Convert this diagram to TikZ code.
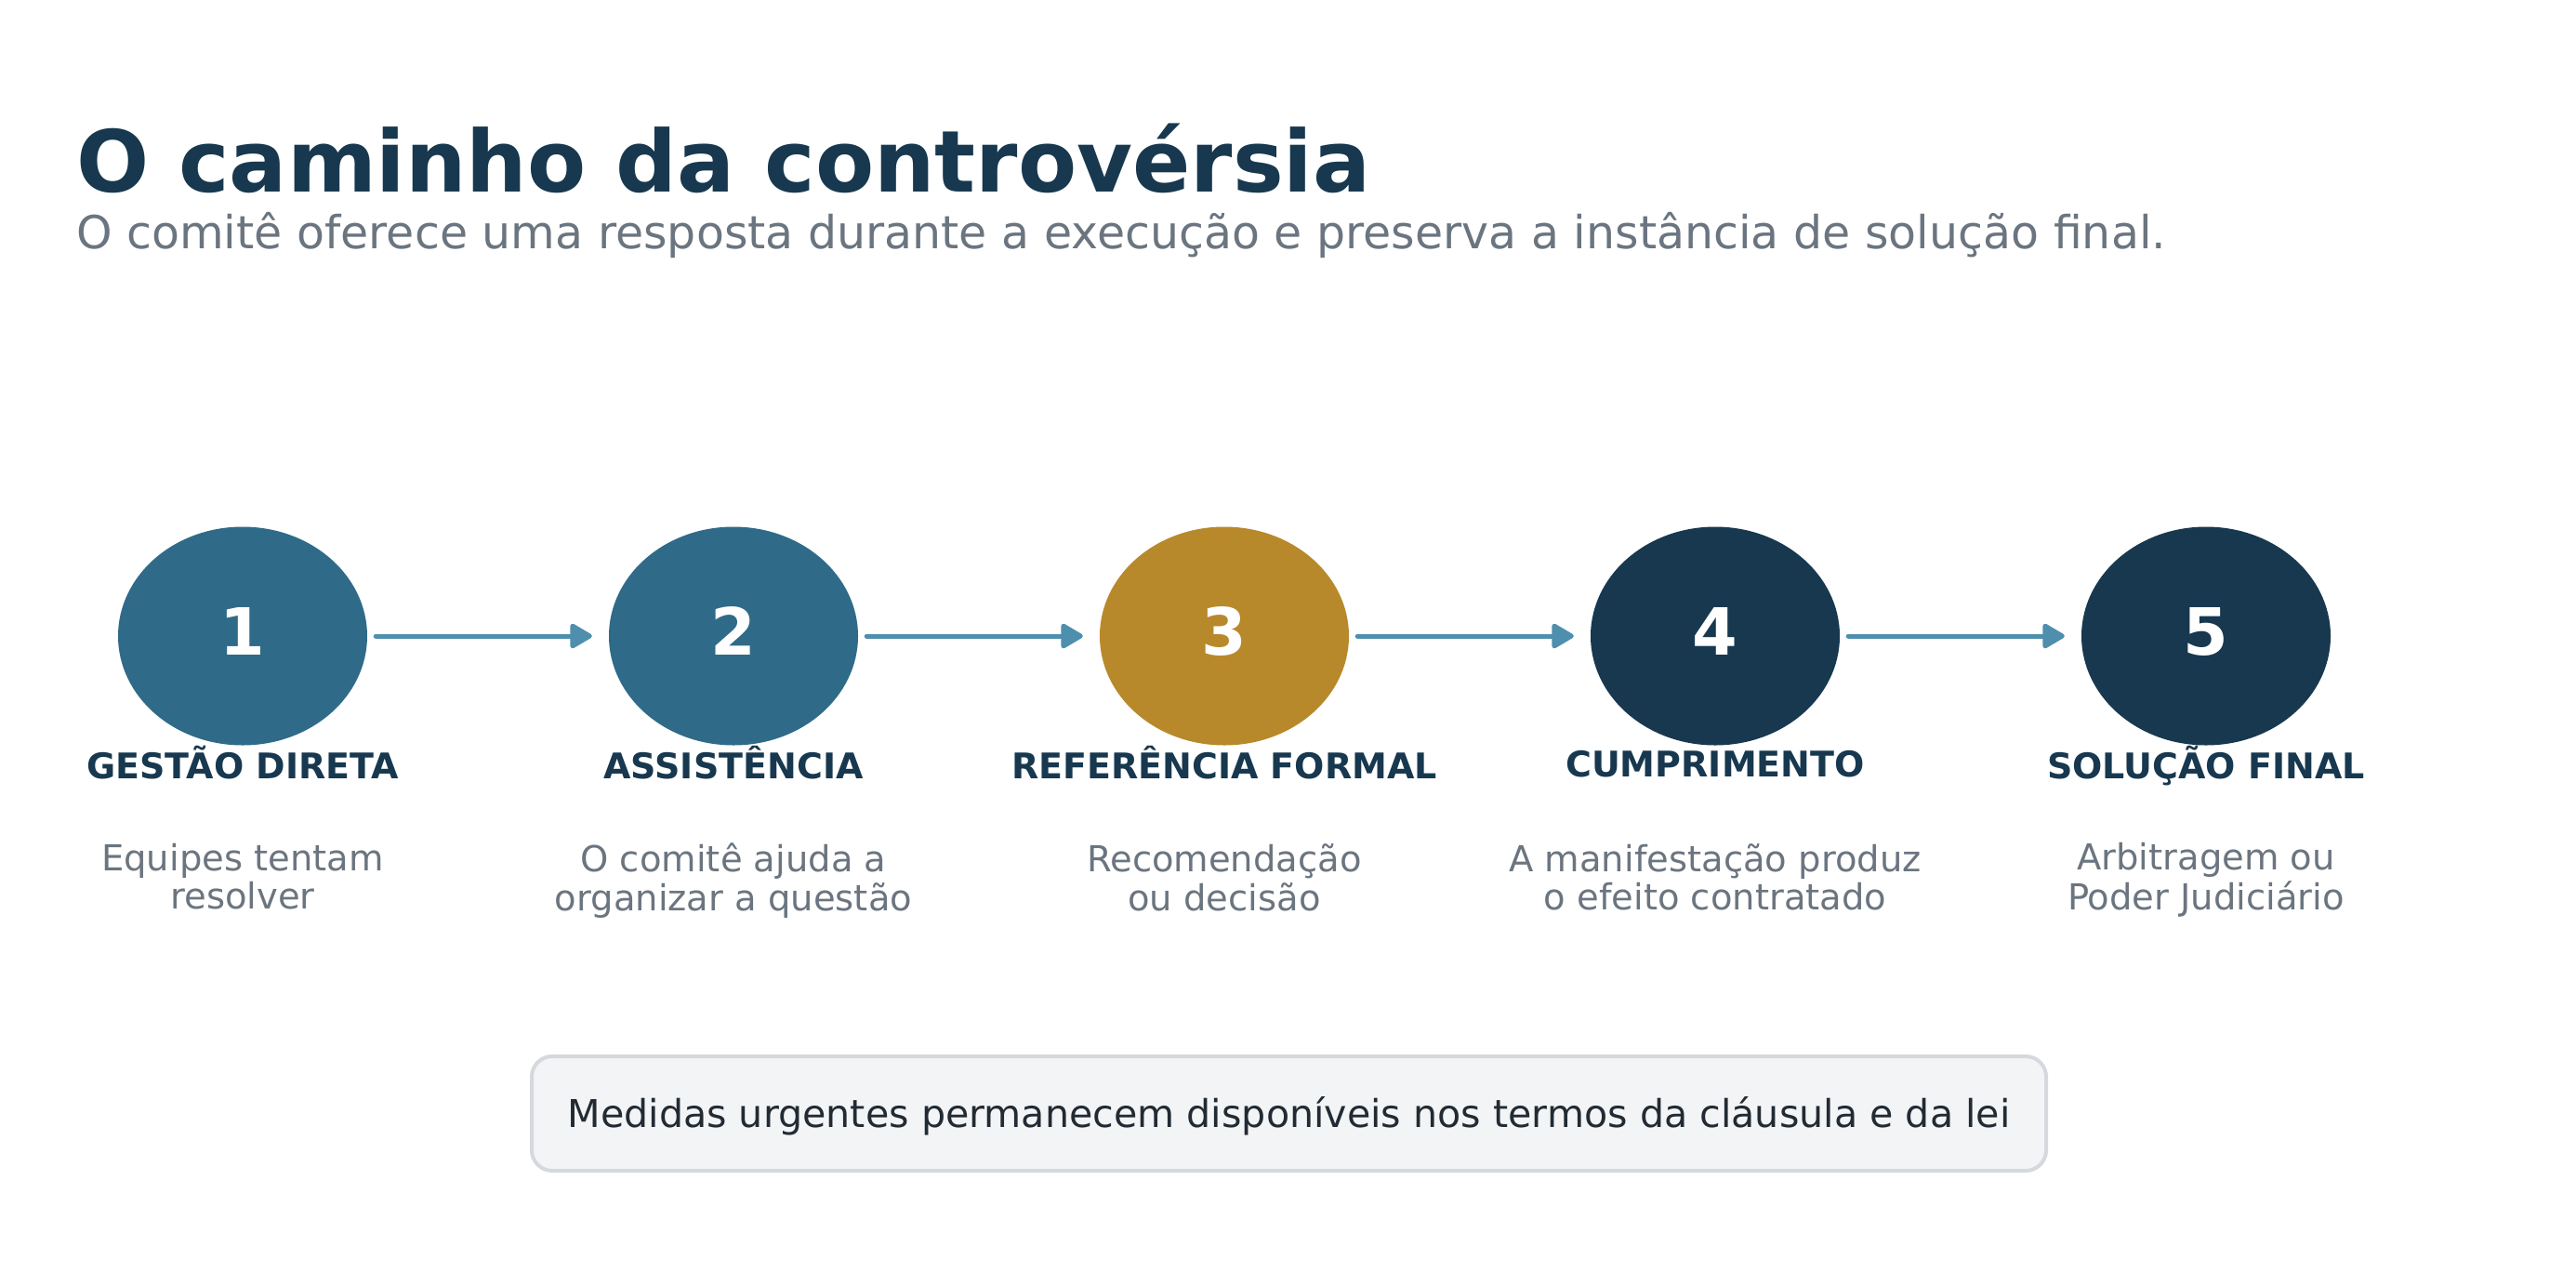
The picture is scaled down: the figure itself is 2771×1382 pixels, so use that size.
\documentclass[tikz,border=0pt]{standalone}
\usepackage{fontspec}
\setmainfont{DejaVu Sans}
\usetikzlibrary{shapes.geometric,arrows.meta}
\definecolor{navy}{HTML}{17384F}
\definecolor{teal}{HTML}{2F6B88}
\definecolor{gold}{HTML}{B8892B}
\definecolor{greytxt}{HTML}{6B7580}
\definecolor{arrowc}{HTML}{4F8FAE}
\definecolor{boxfill}{HTML}{F3F4F6}
\definecolor{boxline}{HTML}{D5D9DE}
\definecolor{boxtxt}{HTML}{222B33}
\tikzset{
  stepnode/.style={ellipse, draw=none, fill=#1, minimum width=268pt, minimum height=235pt, inner sep=0pt,
    text=white, font=\fontsize{70}{80}\selectfont\bfseries, text height=51pt, text depth=10pt},
  steplabel/.style={anchor=base, inner sep=0pt, text=navy, font=\fontsize{38}{44}\selectfont\bfseries},
  stepdesc/.style={anchor=base, inner sep=0pt, text=greytxt, font=\fontsize{38.5}{41}\selectfont},
  flow/.style={draw=arrowc, line width=5pt, line cap=round, -{Triangle[length=26pt,width=29pt,round]},
    shorten <=9pt, shorten >=18pt},
}
\newcommand{\twolines}[2]{\begin{tabular}[t]{@{}c@{}}#1\\#2\end{tabular}}
\begin{document}
\begin{tikzpicture}[x=1pt,y=-1pt]
\useasboundingbox[fill=white] (0,0) rectangle (2771,1382);
\node[anchor=base west, inner sep=0pt, text=navy, font=\fontsize{92}{106}\selectfont\bfseries] (title) at (82,206) {O caminho da controvérsia};
\node[anchor=base west, inner sep=0pt, text=greytxt, font=\fontsize{49}{58}\selectfont] (subtitle) at (82,267) {O comitê oferece uma resposta durante a execução e preserva a instância de solução final.};

\node[stepnode=teal] (c1) at (261,684) {1};
\node[stepnode=teal] (c2) at (789,684) {2};
\node[stepnode=gold] (c3) at (1317,684) {3};
\node[stepnode=navy] (c4) at (1845,684) {4};
\node[stepnode=navy] (c5) at (2373,684) {5};

\draw[flow] (c1.east) -- (c2.west);
\draw[flow] (c2.east) -- (c3.west);
\draw[flow] (c3.east) -- (c4.west);
\draw[flow] (c4.east) -- (c5.west);

\node[steplabel] (l1) at (261,837) {GESTÃO DIRETA};
\node[steplabel] (l2) at (789,837) {ASSISTÊNCIA};
\node[steplabel] (l3) at (1317,837) {REFERÊNCIA FORMAL};
\node[steplabel] (l4) at (1845,835) {CUMPRIMENTO};
\node[steplabel] (l5) at (2373,837) {SOLUÇÃO FINAL};

\node[stepdesc] (d1) at (261,936) {\twolines{Equipes tentam}{resolver}};
\node[stepdesc] (d2) at (789,937) {\twolines{O comitê ajuda a}{organizar a questão}};
\node[stepdesc] (d3) at (1317,937) {\twolines{Recomendação}{ou decisão}};
\node[stepdesc] (d4) at (1845,937) {\twolines{A manifestação produz}{o efeito contratado}};
\node[stepdesc] (d5) at (2373,935) {\twolines{Arbitragem ou}{Poder Judiciário}};

\node[draw=boxline, line width=4pt, fill=boxfill, rounded corners=22pt, minimum width=1629pt, minimum height=123pt,
  inner sep=0pt, text=boxtxt, font=\fontsize{41.2}{48}\selectfont, text height=30pt, text depth=0pt] (note) at (1386.5,1197.5)
  {Medidas urgentes permanecem disponíveis nos termos da cláusula e da lei};
\end{tikzpicture}
\end{document}
